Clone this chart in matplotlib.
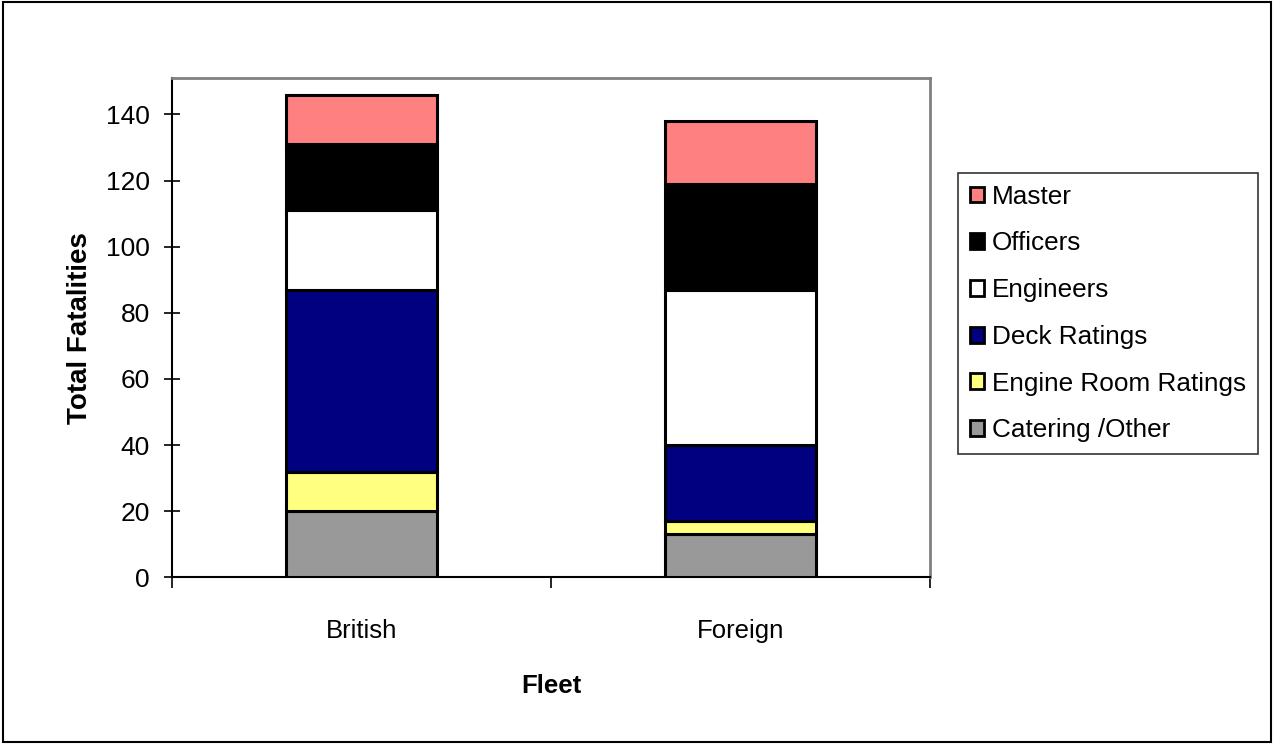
import matplotlib.pyplot as plt
from matplotlib.patches import Patch, Rectangle

plt.rcParams["font.family"] = ["Liberation Sans", "DejaVu Sans"]

fleets = ["British", "Foreign"]
roles = ["Catering /Other", "Engine Room Ratings", "Deck Ratings",
         "Engineers", "Officers", "Master"]
colors = ["#999999", "#ffff80", "#000080", "#ffffff", "#000000", "#ff8080"]

# fatalities per role, bottom of the stack first
british = [20, 12, 55, 24, 20, 15]
foreign = [13, 4, 23, 47, 32, 19]

fig = plt.figure(figsize=(12.74, 7.44), dpi=100)
ax = fig.add_axes([0.135, 0.224, 0.595, 0.671])

x = [0, 1]
bottoms = [0, 0]
for i, role in enumerate(roles):
    heights = [british[i], foreign[i]]
    ax.bar(x, heights, width=0.4, bottom=bottoms, color=colors[i],
           edgecolor="black", linewidth=2.2, label=role, zorder=3)
    bottoms = [b + h for b, h in zip(bottoms, heights)]

ax.set_xlim(-0.5, 1.5)
ax.set_ylim(0, 151)
ax.set_yticks(range(0, 141, 20))
ax.set_xticks(x)
ax.set_xticklabels(fleets)
ax.set_xticks([-0.5, 0.5, 1.5], minor=True)

ax.tick_params(axis="y", direction="inout", length=12, width=1.2,
               labelsize=19, pad=10)
ax.tick_params(axis="x", which="major", length=0, labelsize=18.5, pad=30)
ax.tick_params(axis="x", which="minor", direction="out", length=8, width=1.2)

for side in ["top", "right"]:
    ax.spines[side].set_color("#808080")
    ax.spines[side].set_linewidth(2)
for side in ["left", "bottom"]:
    ax.spines[side].set_color("black")
    ax.spines[side].set_linewidth(1.5)

ax.set_ylabel("Total Fatalities", fontsize=20, fontweight="bold", labelpad=9)
ax.set_xlabel("Fleet", fontsize=18.5, fontweight="bold", labelpad=22)

# legend lists the top segment first
handles = [Patch(facecolor=colors[i], edgecolor="black", linewidth=2)
           for i in reversed(range(len(roles)))]
labels = list(reversed(roles))
leg = fig.legend(handles, labels, loc="upper left",
                 bbox_to_anchor=(0.752, 0.7675), borderaxespad=0,
                 fontsize=18.8, frameon=True, fancybox=False,
                 handlelength=0.55, handleheight=0.55, handletextpad=0.3,
                 labelspacing=0.87, borderpad=0.45)
leg.get_frame().set_edgecolor("black")
leg.get_frame().set_linewidth(1.2)

# thin frame round the whole chart
fig.patches.append(Rectangle((0.002, 0.003), 0.996, 0.994, transform=fig.transFigure,
                             fill=False, edgecolor="black", linewidth=1.5))

fig.savefig("out.png", dpi=100)
